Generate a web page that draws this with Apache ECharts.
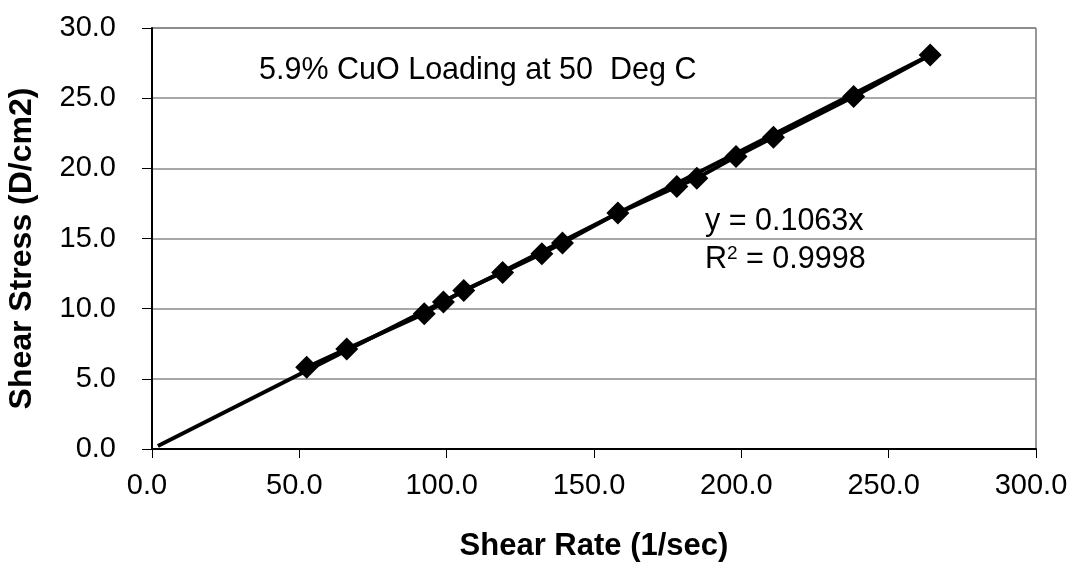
<!DOCTYPE html>
<html>
<head>
<meta charset="utf-8">
<script src="https://cdn.jsdelivr.net/npm/echarts@6/dist/echarts.min.js"></script>
<style>
html,body{margin:0;padding:0;background:#fff;}
#chart{width:1073px;height:564px;}
</style>
</head>
<body>
<div id="chart"></div>
<script>
// Data
const shearRate   = [52.5, 66.1, 92.4, 98.9, 105.8, 119.0, 132.3, 139.3, 158.1, 178.1, 184.9, 198.2, 210.9, 238.1, 264.1];
const shearStress = [5.82, 7.13, 9.64, 10.48, 11.30, 12.58, 13.91, 14.68, 16.81, 18.70, 19.30, 20.84, 22.22, 25.11, 28.08];
const trendX = [2.0, 264.1];
const trendY = [0.21, 28.07];
const xTicks = [0, 50, 100, 150, 200, 250, 300];
const yTicks = [0, 5, 10, 15, 20, 25, 30];
const chartTitle = '5.9% CuO Loading at 50  Deg C';
const eqText = 'y = 0.1063x';
const r2Value = '0.9998';
const xTitle = 'Shear Rate (1/sec)';
const yTitle = 'Shear Stress (D/cm2)';

const FONT = '"Liberation Sans", Arial, sans-serif';
const chart = echarts.init(document.getElementById('chart'), null, {renderer: 'canvas'});

const points = shearRate.map((x, i) => [x, shearStress[i]]);
const trend = trendX.map((x, i) => [x, trendY[i]]);

chart.setOption({
  animation: false,
  backgroundColor: '#fff',
  grid: {left: 152, right: 37, top: 28, bottom: 115, containLabel: false,
         outerBoundsMode: 'none',
         show: true, borderColor: '#333', borderWidth: 1},
  xAxis: {
    type: 'value', min: xTicks[0], max: xTicks[xTicks.length - 1], interval: 50,
    axisLine: {show: true, onZero: false, lineStyle: {color: '#000', width: 2}},
    axisTick: {show: true, length: 9, lineStyle: {color: '#000', width: 1}},
    splitLine: {show: false},
    axisLabel: {formatter: v => v.toFixed(1), color: '#000', fontFamily: FONT, fontSize: 29, margin: 22,
                padding: [0, 10, 0, 0]},
    name: xTitle, nameLocation: 'middle', nameGap: 82,
    nameTextStyle: {fontFamily: FONT, fontSize: 31, fontWeight: 'bold', color: '#000'}
  },
  yAxis: {
    type: 'value', min: yTicks[0], max: yTicks[yTicks.length - 1], interval: 5,
    axisLine: {show: true, onZero: false, lineStyle: {color: '#000', width: 2}},
    axisTick: {show: true, length: 10, lineStyle: {color: '#000', width: 1}},
    splitLine: {show: true, lineStyle: {color: '#8a8a8a', width: 1.5}},
    axisLabel: {formatter: v => v.toFixed(1), color: '#000', fontFamily: FONT, fontSize: 29, margin: 36},
    name: yTitle, nameLocation: 'middle', nameGap: 114, nameRotate: 90,
    nameTextStyle: {fontFamily: FONT, fontSize: 32, fontWeight: 'bold', color: '#000',
                    padding: [0, 20, 0, 0]}
  },
  series: [
    {
      type: 'line', data: trend, showSymbol: false, symbol: 'none',
      lineStyle: {color: '#000', width: 4}, z: 3
    },
    {
      type: 'line', data: points, symbol: 'diamond', symbolSize: 23,
      itemStyle: {color: '#000'}, lineStyle: {color: '#000', width: 4}, z: 4
    }
  ],
  graphic: [
    {type: 'text', left: 259, top: 55,
     style: {text: chartTitle, font: '30.5px ' + FONT, fill: '#000'}},
    {type: 'text', left: 705, top: 206,
     style: {text: eqText, font: '30.5px ' + FONT, fill: '#000'}},
    {type: 'text', left: 705, top: 244,
     style: {text: 'R{sup|2} = ' + r2Value, font: '30.5px ' + FONT, fill: '#000',
             rich: {sup: {fontSize: 19, fontFamily: FONT, verticalAlign: 'top', padding: [0, 0, 13, 0]}}}}
  ]
});
</script>
</body>
</html>
